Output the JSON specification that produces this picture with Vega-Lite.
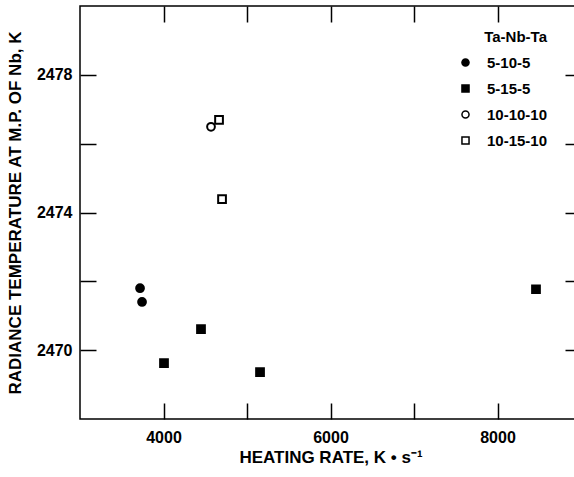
{
  "$schema": "https://vega.github.io/schema/vega-lite/v6.json",
  "width": 501,
  "height": 413,
  "autosize": {"type": "none"},
  "padding": {"left": 80, "top": 6, "right": 0, "bottom": 58},
  "background": "white",
  "data": {
    "values": [
      {"rate": 3719, "temp": 2471.8, "series": "5-10-5"},
      {"rate": 3743, "temp": 2471.4, "series": "5-10-5"},
      {"rate": 4006, "temp": 2469.62, "series": "5-15-5"},
      {"rate": 4449, "temp": 2470.61, "series": "5-15-5"},
      {"rate": 5156, "temp": 2469.36, "series": "5-15-5"},
      {"rate": 8461, "temp": 2471.77, "series": "5-15-5"},
      {"rate": 4569, "temp": 2476.49, "series": "10-10-10"},
      {"rate": 4665, "temp": 2476.69, "series": "10-15-10"},
      {"rate": 4701, "temp": 2474.39, "series": "10-15-10"}
    ]
  },
  "config": {
    "font": "Liberation Sans",
    "view": {"stroke": "black", "strokeWidth": 1.5},
    "axis": {
      "domain": false,
      "grid": false,
      "tickColor": "black",
      "tickWidth": 1.5,
      "tickSize": -16,
      "labelFont": "Liberation Sans",
      "labelFontWeight": "bold",
      "labelFontSize": 16,
      "labelColor": "black",
      "titleFont": "Liberation Sans",
      "titleFontWeight": "bold",
      "titleFontSize": 17,
      "titleColor": "black"
    },
    "legend": {
      "titleFont": "Liberation Sans",
      "titleFontWeight": "bold",
      "titleFontSize": 15,
      "titleColor": "black",
      "labelFont": "Liberation Sans",
      "labelFontWeight": "bold",
      "labelFontSize": 15,
      "labelColor": "black"
    }
  },
  "layer": [
    {
      "mark": {"type": "point", "filled": true, "stroke": "black", "strokeWidth": 2, "size": 60, "opacity": 1},
      "encoding": {
        "x": {
          "field": "rate", "type": "quantitative",
          "scale": {"domain": [3000, 9000], "nice": false, "zero": false},
          "axis": {
            "orient": "bottom",
            "values": [4000, 5000, 6000, 7000, 8000],
            "labelExpr": "datum.value % 2000 == 0 ? datum.value : ''",
            "labelPadding": 26,
            "title": "HEATING RATE, K • s⁻¹",
            "titlePadding": 4
          }
        },
        "y": {
          "field": "temp", "type": "quantitative",
          "scale": {"domain": [2468, 2480], "nice": false, "zero": false},
          "axis": {
            "orient": "left",
            "values": [2470, 2472, 2474, 2476, 2478],
            "labelExpr": "datum.value % 4 == 2 ? datum.value : ''",
            "labelPadding": 24,
            "title": "RADIANCE TEMPERATURE AT M.P. OF Nb, K",
            "titlePadding": 12
          }
        },
        "shape": {
          "field": "series", "type": "nominal",
          "scale": {"domain": ["5-10-5", "5-15-5", "10-10-10", "10-15-10"], "range": ["circle", "square", "circle", "square"]},
          "legend": {
            "title": "Ta-Nb-Ta",
            "orient": "none",
            "legendX": 378,
            "legendY": 24,
            "symbolSize": 50,
            "rowPadding": 10,
            "labelOffset": 14,
            "titlePadding": 10,
            "titleAnchor": "end",
            "encode": {"symbols": {"update": {"stroke": {"value": "black"}, "strokeWidth": {"value": 2}}}}
          }
        },
        "fill": {
          "field": "series", "type": "nominal",
          "scale": {"domain": ["5-10-5", "5-15-5", "10-10-10", "10-15-10"], "range": ["black", "black", "white", "white"]},
          "legend": {
            "title": "Ta-Nb-Ta",
            "orient": "none",
            "legendX": 378,
            "legendY": 24,
            "symbolSize": 50,
            "rowPadding": 10,
            "labelOffset": 14,
            "titlePadding": 10,
            "titleAnchor": "end",
            "encode": {"symbols": {"update": {"stroke": {"value": "black"}, "strokeWidth": {"value": 2}}}}
          }
        }
      }
    },
    {
      "mark": {"type": "point", "opacity": 0},
      "encoding": {
        "x": {
          "field": "rate", "type": "quantitative",
          "axis": {"orient": "top", "values": [4000, 5000, 6000, 7000, 8000], "labels": false, "title": null}
        },
        "y": {
          "field": "temp", "type": "quantitative",
          "axis": {"orient": "right", "values": [2470, 2472, 2474, 2476, 2478], "labels": false, "title": null}
        }
      }
    }
  ],
  "resolve": {"axis": {"x": "independent", "y": "independent"}}
}
